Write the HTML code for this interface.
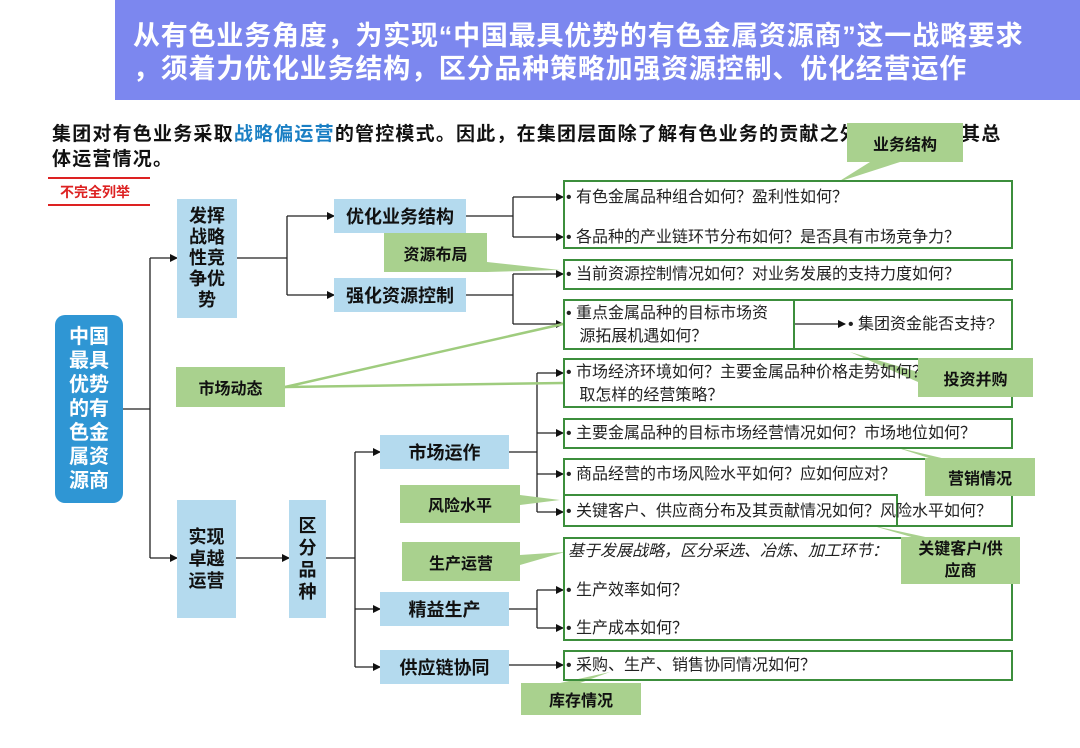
<!DOCTYPE html>
<html><head><meta charset="utf-8"><style>
body{margin:0;width:1080px;height:748px;background:#fff;position:relative;overflow:hidden;font-family:"Liberation Sans","Noto Sans CJK SC",sans-serif;}
.a{position:absolute;}
.hdr{left:115px;top:0;width:965px;height:100px;background:#7c87ef;color:#fff;font-weight:bold;font-size:27px;letter-spacing:0.8px;line-height:33px;}
.blue{background:#b4daee;color:#111;font-weight:bold;font-size:18px;display:flex;align-items:center;justify-content:center;text-align:center;}
.grn{background:#a9d18e;color:#111;font-weight:bold;font-size:16px;display:flex;align-items:center;justify-content:center;text-align:center;}
.bx{border:2px solid #3c8e3c;box-sizing:border-box;}
.t{position:absolute;font-size:16px;color:#222;white-space:nowrap;line-height:23px;}
</style></head><body>
<div class="a hdr"><div style="position:absolute;left:18px;top:20px">从有色业务角度，为实现“中国最具优势的有色金属资源商”这一战略要求</div><div style="position:absolute;left:18px;top:53px">，须着力优化业务结构，区分品种策略加强资源控制、优化经营运作</div></div>
<div class="a" style="left:52px;top:122px;font-size:19px;letter-spacing:1.2px;font-weight:bold;line-height:25px;color:#111">集团对有色业务采取<span style="color:#1a7fc4">战略偏运营</span>的管控模式。因此，在集团层面除了解有色业务的贡献之外，还需了解其总<br>体运营情况。</div>
<div class="a" style="left:48px;top:177px;width:102px;border-top:2px solid #d22"></div>
<div class="a" style="left:48px;top:204px;width:102px;border-top:2px solid #d22"></div>
<div class="a" style="left:60px;top:182px;color:#d22;font-weight:bold;font-size:14px">不完全列举</div>

<svg class="a" style="left:0;top:0" width="1080" height="748">
<defs><marker id="m" markerWidth="8" markerHeight="8" refX="7" refY="4" orient="auto" markerUnits="userSpaceOnUse"><path d="M0,0L8,4L0,8z" fill="#111"/></marker></defs>
<g stroke="#222" stroke-width="1.3" fill="none">
<path d="M123,409H150M150,258V558"/>
<path d="M150,258H177" marker-end="url(#m)"/><path d="M150,558H177" marker-end="url(#m)"/>
<path d="M237,258H287M287,216V295"/>
<path d="M287,216H334" marker-end="url(#m)"/><path d="M287,295H334" marker-end="url(#m)"/>
<path d="M466,216H513M513,197V237"/>
<path d="M513,197H563" marker-end="url(#m)"/><path d="M513,237H563" marker-end="url(#m)"/>
<path d="M466,295H513M513,274V324"/>
<path d="M513,274H563" marker-end="url(#m)"/><path d="M513,324H563" marker-end="url(#m)"/>
<path d="M236,558H289" marker-end="url(#m)"/>
<path d="M326,558H355M355,452V667"/>
<path d="M355,452H380" marker-end="url(#m)"/><path d="M355,609H380" marker-end="url(#m)"/><path d="M355,667H380" marker-end="url(#m)"/>
<path d="M509,452H537M537,373V512"/>
<path d="M537,373H563" marker-end="url(#m)"/><path d="M537,433H563" marker-end="url(#m)"/><path d="M537,474H563" marker-end="url(#m)"/><path d="M537,512H563" marker-end="url(#m)"/>
<path d="M509,609H537M537,590V628"/>
<path d="M537,590H563" marker-end="url(#m)"/><path d="M537,628H563" marker-end="url(#m)"/>
<path d="M509,665H563" marker-end="url(#m)"/>
<path d="M795,324H845" marker-end="url(#m)"/>
</g>
<g stroke="#9fcc7e" stroke-width="2.5" fill="none"><path d="M285,387L563,324"/><path d="M285,387L563,383"/></g>
<g fill="#a9d18e">
<polygon points="870,162 900,162 838,182"/>
<polygon points="487,262 487,272 560,270"/>
<polygon points="918,372 918,382 850,352"/>
<polygon points="935,460 950,460 895,447"/>
<polygon points="520,495 520,505 560,500"/>
<polygon points="915,538 930,538 870,525"/>
<polygon points="520,555 520,565 565,552"/>
<polygon points="560,683 580,683 610,672"/>
</g>
</svg>

<div class="a" style="left:55px;top:315px;width:68px;height:188px;background:#2f96d4;border-radius:10px;color:#fff;font-weight:bold;font-size:20px;line-height:24px;display:flex;align-items:center;justify-content:center;text-align:center">中国<br>最具<br>优势<br>的有<br>色金<br>属资<br>源商</div>
<div class="a blue" style="left:177px;top:199px;width:60px;height:119px;line-height:21px">发挥<br>战略<br>性竞<br>争优<br>势</div>
<div class="a blue" style="left:177px;top:500px;width:59px;height:118px;line-height:22px">实现<br>卓越<br>运营</div>
<div class="a blue" style="left:289px;top:500px;width:37px;height:118px;line-height:22px">区<br>分<br>品<br>种</div>
<div class="a blue" style="left:334px;top:199px;width:132px;height:34px">优化业务结构</div>
<div class="a blue" style="left:334px;top:278px;width:132px;height:34px">强化资源控制</div>
<div class="a blue" style="left:380px;top:435px;width:129px;height:34px">市场运作</div>
<div class="a blue" style="left:380px;top:592px;width:129px;height:34px">精益生产</div>
<div class="a blue" style="left:380px;top:650px;width:129px;height:34px">供应链协同</div>

<div class="a bx" style="left:563px;top:180px;width:450px;height:69px"></div>
<div class="t" style="left:566px;top:186px">• 有色金属品种组合如何？盈利性如何？</div>
<div class="t" style="left:566px;top:226px">• 各品种的产业链环节分布如何？是否具有市场竞争力？</div>
<div class="a bx" style="left:563px;top:259px;width:450px;height:31px"></div>
<div class="t" style="left:566px;top:263px">• 当前资源控制情况如何？对业务发展的支持力度如何？</div>
<div class="a bx" style="left:563px;top:299px;width:450px;height:51px"></div>
<div class="a bx" style="left:563px;top:299px;width:232px;height:51px"></div>
<div class="t" style="left:566px;top:302px">• 重点金属品种的目标市场资<br>&nbsp;&nbsp;&nbsp;源拓展机遇如何？</div>
<div class="t" style="left:848px;top:313px">• 集团资金能否支持?</div>
<div class="a bx" style="left:563px;top:358px;width:450px;height:50px"></div>
<div class="t" style="left:566px;top:361px">• 市场经济环境如何？主要金属品种价格走势如何？<br>&nbsp;&nbsp;&nbsp;取怎样的经营策略？</div>
<div class="a bx" style="left:563px;top:418px;width:450px;height:31px"></div>
<div class="t" style="left:566px;top:422px">• 主要金属品种的目标市场经营情况如何？市场地位如何？</div>
<div class="a bx" style="left:563px;top:458px;width:450px;height:69px"></div>
<div class="a bx" style="left:563px;top:494px;width:335px;height:33px"></div>
<div class="t" style="left:566px;top:463px">• 商品经营的市场风险水平如何？应如何应对？</div>
<div class="t" style="left:566px;top:500px">• 关键客户、供应商分布及其贡献情况如何？风险水平如何？</div>
<div class="a bx" style="left:563px;top:537px;width:450px;height:104px"></div>
<div class="t" style="left:568px;top:540px;font-style:italic">基于发展战略，区分采选、冶炼、加工环节：</div>
<div class="t" style="left:566px;top:579px">• 生产效率如何？</div>
<div class="t" style="left:566px;top:617px">• 生产成本如何？</div>
<div class="a bx" style="left:563px;top:650px;width:450px;height:31px"></div>
<div class="t" style="left:566px;top:654px">• 采购、生产、销售协同情况如何？</div>

<div class="a grn" style="left:847px;top:123px;width:116px;height:39px">业务结构</div>
<div class="a grn" style="left:384px;top:233px;width:103px;height:39px">资源布局</div>
<div class="a grn" style="left:176px;top:367px;width:109px;height:40px">市场动态</div>
<div class="a grn" style="left:918px;top:358px;width:115px;height:39px">投资并购</div>
<div class="a grn" style="left:925px;top:458px;width:110px;height:38px">营销情况</div>
<div class="a grn" style="left:400px;top:485px;width:120px;height:38px">风险水平</div>
<div class="a grn" style="left:901px;top:537px;width:119px;height:47px;line-height:22px">关键客户/供<br>应商</div>
<div class="a grn" style="left:402px;top:542px;width:118px;height:39px">生产运营</div>
<div class="a grn" style="left:521px;top:683px;width:120px;height:32px">库存情况</div>
</body></html>
